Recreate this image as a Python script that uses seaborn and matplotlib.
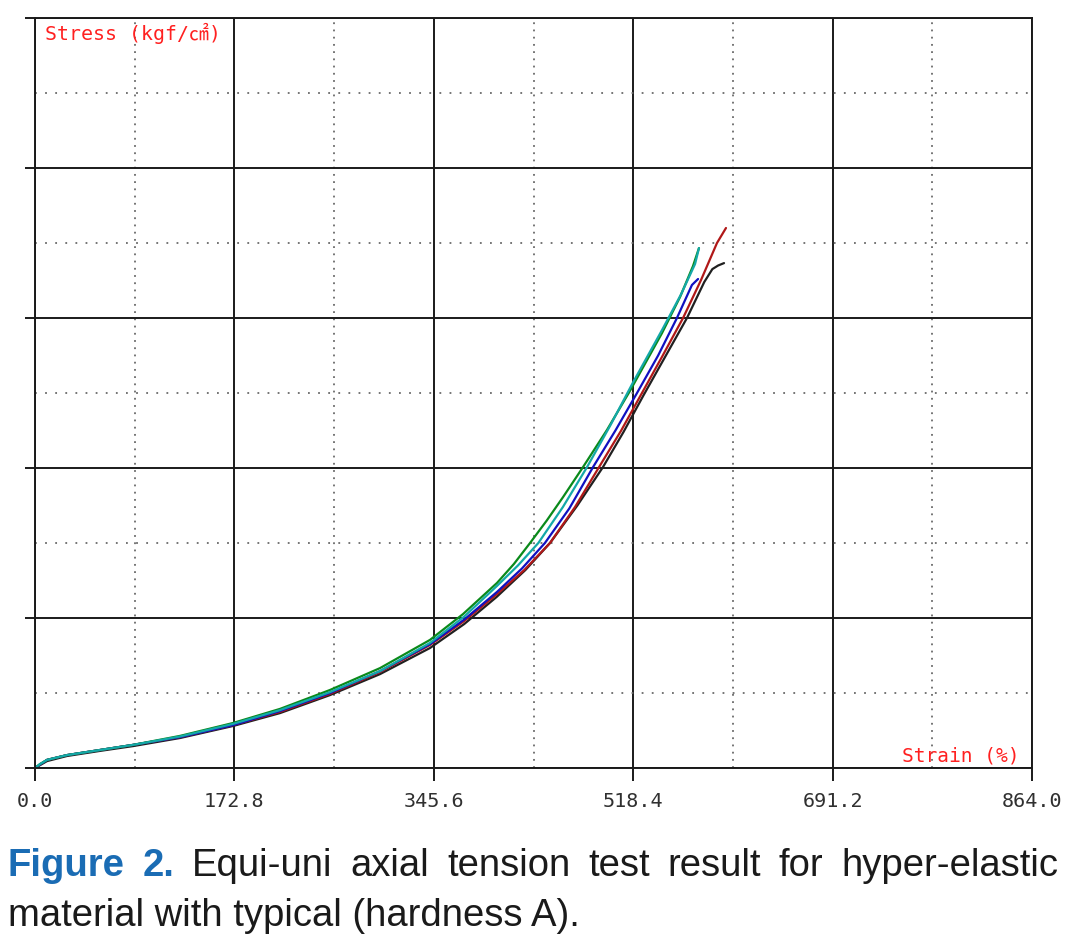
import numpy as np
import pandas as pd
import seaborn as sns
import matplotlib.pyplot as plt

# Strain (%) / stress readings for each specimen
green_strain = [0, 4.3, 10.4, 27.7, 56.3, 84.9, 125.7, 171.6, 212.3, 255.6, 299.0, 342.3,
                370.9, 400.4, 415.0, 429.0, 443.5, 457.6, 474.9, 495.7, 515.6, 543.4, 559.0, 570.2, 575.4]
green_stress = [0, 1.3, 2.7, 4.3, 6.0, 7.7, 10.7, 15.0, 19.7, 26.0, 33.3, 42.7,
                51.3, 61.7, 68.0, 75.0, 82.5, 90.3, 100.3, 112.7, 125.7, 145.0, 157.0, 167.3, 173.3]

cyan_strain = [0, 4.3, 10.4, 27.7, 56.3, 84.9, 125.7, 171.6, 212.3, 255.6, 299.0, 342.3,
               372.0, 400.4, 418.5, 436.2, 457.5, 478.4, 499.0, 518.2, 543.4, 560.0, 572.0, 575.4]
cyan_stress = [0, 1.3, 2.7, 4.3, 6.0, 7.7, 10.5, 14.7, 19.3, 25.3, 32.3, 41.7,
               50.5, 60.7, 67.5, 75.0, 87.0, 100.3, 114.5, 128.5, 146.0, 158.0, 168.0, 173.3]

blue_strain = [0, 10.4, 27.7, 56.3, 84.9, 125.7, 171.6, 212.3, 255.6, 299.0, 342.3,
               372.0, 400.4, 422.0, 441.9, 463.0, 483.6, 503.0, 521.7, 540.0, 556.3, 569.3, 574.6]
blue_stress = [0, 2.7, 4.3, 6.0, 7.7, 10.3, 14.3, 19.0, 25.0, 32.3, 41.3,
               49.5, 58.7, 66.5, 75.0, 86.5, 100.3, 112.5, 125.0, 137.5, 150.0, 161.0, 163.0]

red_strain = [0, 10.4, 27.7, 56.3, 84.9, 125.7, 171.6, 212.3, 255.6, 299.0, 342.3,
              372.0, 400.4, 424.0, 446.3, 468.0, 488.8, 508.0, 526.0, 544.0, 561.6, 577.0, 591.0, 598.8]
red_stress = [0, 2.7, 4.3, 6.0, 7.7, 10.3, 14.3, 18.7, 24.7, 32.0, 41.0,
              49.0, 58.0, 66.0, 75.0, 87.0, 100.3, 112.5, 125.0, 137.5, 150.0, 162.5, 175.0, 180.0]

black_strain = [0, 10.4, 27.7, 56.3, 84.9, 125.7, 171.6, 212.3, 255.6, 299.0, 342.3,
                372.0, 400.0, 425.0, 446.3, 470.0, 492.2, 510.0, 527.0, 546.0, 565.0, 580.0, 587.0, 592.0, 597.1]
black_stress = [0, 2.3, 4.0, 5.7, 7.3, 10.0, 14.0, 18.3, 24.3, 31.3, 40.0,
                48.0, 57.0, 66.0, 75.0, 87.5, 100.3, 112.0, 124.0, 137.0, 150.0, 162.0, 166.3, 167.5, 168.3]

x_ticks = [0.0, 172.8, 345.6, 518.4, 691.2, 864.0]
x_tick_labels = ['0.0', '172.8', '345.6', '518.4', '691.2', '864.0']
y_ticks = [0, 50, 100, 150, 200, 250]

specimens = ['black', 'red', 'blue', 'green', 'cyan']
colors = {'black': '#202020', 'red': '#b01818', 'blue': '#1010c0',
          'green': '#0a8a1a', 'cyan': '#14a8a8'}

series = {
    'black': (black_strain, black_stress),
    'red': (red_strain, red_stress),
    'blue': (blue_strain, blue_stress),
    'green': (green_strain, green_stress),
    'cyan': (cyan_strain, cyan_stress),
}
frames = []
for name in specimens:
    s, t = series[name]
    frames.append(pd.DataFrame({'strain': s, 'stress': t, 'specimen': name}))
df = pd.concat(frames, ignore_index=True)

sns.set_style('white')
plt.rcParams['font.family'] = ['DejaVu Sans']

fig = plt.figure(figsize=(10.8, 9.43), dpi=100)
ax = fig.add_axes([35 / 1080, 1 - 768 / 943, 997 / 1080, 750 / 943])

# grid: solid majors, dotted minors
ax.set_xlim(0, 864)
ax.set_ylim(0, 250)
ax.set_xticks(x_ticks)
ax.set_xticklabels(x_tick_labels)
ax.set_yticks(y_ticks)
ax.set_yticklabels([])
ax.set_xticks([86.4 + 172.8 * i for i in range(5)], minor=True)
ax.set_yticks([25 + 50 * i for i in range(5)], minor=True)
ax.xaxis.grid(True, which='major', color='#1a1a1a', lw=1.4)
ax.yaxis.grid(True, which='major', color='#1a1a1a', lw=1.4)
ax.xaxis.grid(True, which='minor', color='#6a6a6a', lw=1.3, linestyle=(0, (1, 3.0)))
ax.yaxis.grid(True, which='minor', color='#6a6a6a', lw=1.3, linestyle=(0, (1, 4.6)))
ax.set_axisbelow(True)
for sp in ax.spines.values():
    sp.set_visible(True)
    sp.set_color('#1a1a1a')
    sp.set_linewidth(1.4)

ax.tick_params(axis='x', which='major', direction='out', length=9, width=1.4, bottom=True,
               color='#1a1a1a', pad=8, labelsize=14.5, labelcolor='#303030')
ax.tick_params(axis='y', which='major', direction='out', length=7, width=1.4, left=True,
               color='#1a1a1a')
ax.tick_params(which='minor', length=0)
for lab in ax.get_xticklabels():
    lab.set_family('DejaVu Sans Mono')

sns.lineplot(data=df, x='strain', y='stress', hue='specimen', hue_order=specimens,
             palette=colors, units='specimen', estimator=None, sort=False,
             lw=1.6, legend=False, ax=ax)
ax.set_xlabel('')
ax.set_ylabel('')

ax.text(10 / 997, 1 - 15 / 750, 'Stress (kgf/㎠)', transform=ax.transAxes,
        color='#ff2020', fontsize=14.3, va='center', ha='left',
        family=['DejaVu Sans Mono', 'Noto Sans CJK JP'])
ax.text(1 - 12 / 997, 12 / 750, 'Strain (%)', transform=ax.transAxes,
        color='#ff2020', fontsize=14, va='center', ha='right',
        family=['DejaVu Sans Mono'])

# caption, first line justified across the width
cap_size = 27.5
words = [('Figure', 'bold', '#1a6cb4'), ('2.', 'bold', '#1a6cb4'),
         ('Equi-uni', 'normal', '#1a1a1a'), ('axial', 'normal', '#1a1a1a'),
         ('tension', 'normal', '#1a1a1a'), ('test', 'normal', '#1a1a1a'),
         ('result', 'normal', '#1a1a1a'), ('for', 'normal', '#1a1a1a'),
         ('hyper-elastic', 'normal', '#1a1a1a')]
renderer = fig.canvas.get_renderer()
left_px, right_px = 8, 1058
y1 = 1 - 876 / 943
texts = []
widths = []
for w, weight, col in words:
    t = fig.text(0, y1, w, fontsize=cap_size, weight=weight, color=col,
                 family='Liberation Sans', va='baseline', ha='left')
    texts.append(t)
    widths.append(t.get_window_extent(renderer).width)
gap = (right_px - left_px - sum(widths)) / (len(words) - 1)
xpos = left_px
for t, wd in zip(texts, widths):
    t.set_x(xpos / 1080)
    xpos += wd + gap

fig.text(left_px / 1080, 1 - 926 / 943, 'material with typical (hardness A).',
         fontsize=cap_size, color='#1a1a1a', family='Liberation Sans',
         va='baseline', ha='left')

fig.savefig('out.png', dpi=100)
